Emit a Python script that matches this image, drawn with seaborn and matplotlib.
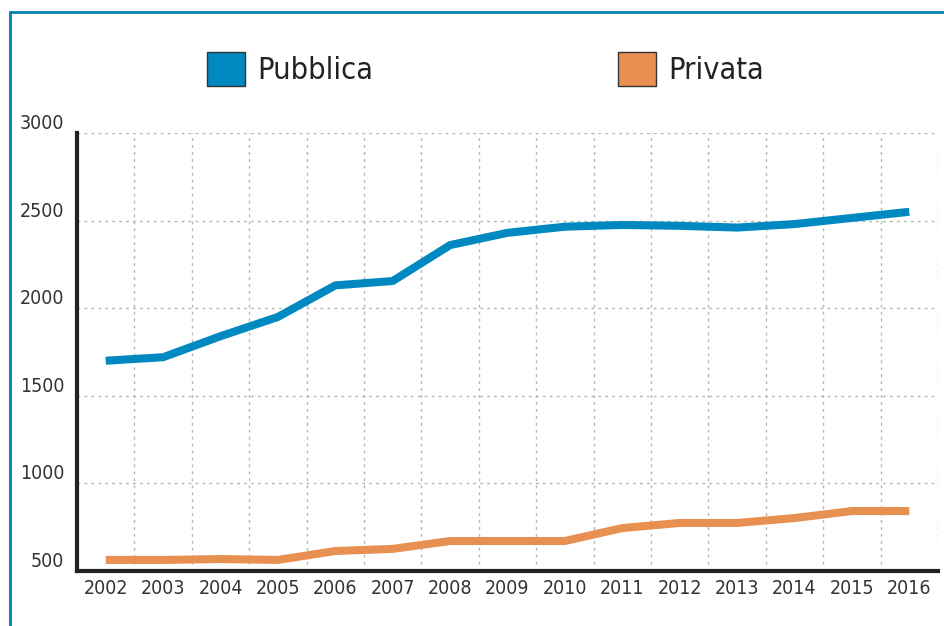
import pandas as pd
import matplotlib.pyplot as plt
import seaborn as sns
from matplotlib.patches import Patch
from matplotlib.lines import Line2D

years = ['2002', '2003', '2004', '2005', '2006', '2007', '2008', '2009',
         '2010', '2011', '2012', '2013', '2014', '2015', '2016']
pubblica = [1700, 1720, 1840, 1950, 2130, 2155, 2360, 2430, 2465, 2475,
            2470, 2460, 2480, 2515, 2550]
privata = [563, 563, 568, 563, 614, 626, 671, 671, 671, 745,
           774, 774, 802, 842, 842]
series_names = ['Pubblica', 'Privata']
series_colors = ['#0089c0', '#e89051']

df = pd.DataFrame({'Anno': years * 2,
                   'Valore': pubblica + privata,
                   'Serie': ['Pubblica'] * len(years) + ['Privata'] * len(years)})
df['x'] = df['Anno'].map({y: i for i, y in enumerate(years)})

sns.set_style('white')
plt.rcParams['font.family'] = ['DejaVu Sans']
plt.rcParams['font.stretch'] = 'condensed'

fig = plt.figure(figsize=(9.44, 6.26), dpi=100)
ax = fig.add_axes([0.0816, 0.0879, 0.9120, 0.6997])

sns.lineplot(data=df, x='x', y='Valore', hue='Serie', hue_order=series_names,
             palette=series_colors, linewidth=5.8, legend=False, ax=ax,
             solid_capstyle='butt')

ax.set_xlim(-0.5, len(years) - 0.5)
ax.set_ylim(500, 3000)
ax.set_xticks(range(len(years)))
ax.set_xticklabels(years)
ax.set_yticks([500, 1000, 1500, 2000, 2500, 3000])
ax.set_yticklabels(['500', '1000', '1500', '2000', '2500', '3000'])
ax.tick_params(axis='both', length=0, labelsize=14, colors='#333333')
ax.tick_params(axis='y', pad=9)
ax.tick_params(axis='x', pad=6)
for lab in ax.get_yticklabels():
    lab.set_verticalalignment('bottom')
ax.set_xlabel('')
ax.set_ylabel('')

# dashed grid between categories and at y ticks
for i in range(len(years)):
    ax.axvline(i + 0.5, color='#b5b5b5', linestyle=(0, (2, 3)), linewidth=1, zorder=0)
for v in [1000, 1500, 2000, 2500, 3000]:
    ax.axhline(v, color='#b5b5b5', linestyle=(0, (2, 3)), linewidth=1, zorder=0)

for s in ['top', 'right']:
    ax.spines[s].set_visible(False)
for s in ['left', 'bottom']:
    ax.spines[s].set_color('#222222')
    ax.spines[s].set_linewidth(3)

lx = [207 / 944, 618 / 944]
for name, color, x0 in zip(series_names, series_colors, lx):
    h = Patch(facecolor=color, edgecolor='#333333', linewidth=1)
    fig.legend([h], [name], loc='center left', bbox_to_anchor=(x0, 0.89),
               frameon=False, fontsize=22, handlelength=1.24, handleheight=1.37,
               handletextpad=0.4, borderpad=0, borderaxespad=0,
               labelcolor='#222222')

# blue frame
fig.add_artist(Line2D([10 / 944, 10 / 944], [0, 1 - 12 / 626], color='#0080b0', linewidth=2,
                      transform=fig.transFigure))
fig.add_artist(Line2D([10 / 944, 1], [1 - 12 / 626, 1 - 12 / 626], color='#0080b0', linewidth=2,
                      transform=fig.transFigure))

plt.savefig('out.png', dpi=100)
